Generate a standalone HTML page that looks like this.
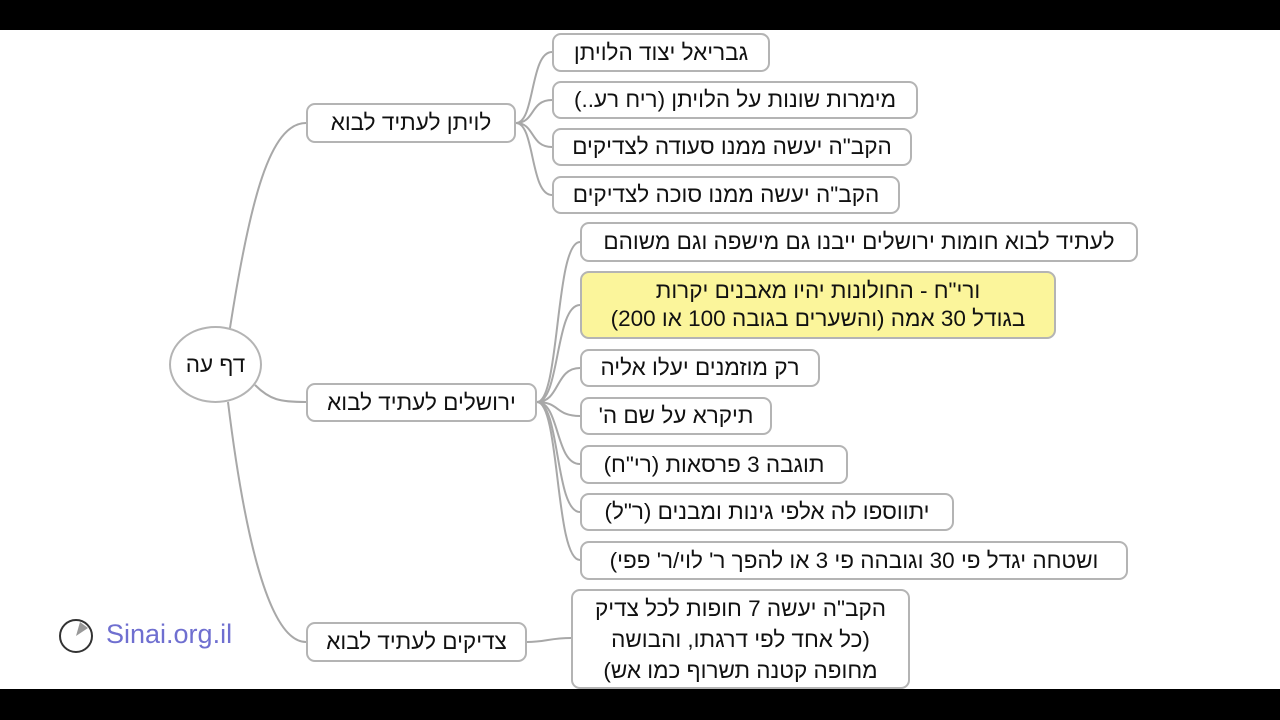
<!DOCTYPE html>
<html><head><meta charset="utf-8"><style>
body{margin:0;width:1280px;height:720px;background:#fff;position:relative;overflow:hidden;font-family:"Liberation Sans","DejaVu Sans",sans-serif}
.bar{position:absolute;left:0;width:1280px;background:#000}
.n{position:absolute;box-sizing:border-box;border:2px solid #b4b4b4;border-radius:9px;background:#fff;color:#111;font-size:22.5px;direction:rtl;text-align:center;display:flex;align-items:center;justify-content:center;line-height:26px;white-space:nowrap}
svg{position:absolute;left:0;top:0}
</style></head><body>
<div class="bar" style="top:0;height:30px"></div>
<div class="bar" style="top:689px;height:31px"></div>
<svg width="1280" height="720" fill="none" stroke="#a8a8a8" stroke-width="2">
<path d="M230 328 C250 200 270 123 306 123"/>
<path d="M255 385 C270 400 280 402 306 402"/>
<path d="M228 402 C245 540 270 642 306 642"/>
<path d="M516 123 C535 123 530 52 552 52"/>
<path d="M516 123 C535 123 530 100 552 100"/>
<path d="M516 123 C535 123 530 147 552 147"/>
<path d="M516 123 C535 123 530 195 552 195"/>
<path d="M537 402 C560 402 555 242 580 242"/>
<path d="M537 402 C560 402 555 305 580 305"/>
<path d="M537 402 C560 402 555 368 580 368"/>
<path d="M537 402 C560 402 555 416 580 416"/>
<path d="M537 402 C560 402 555 464 580 464"/>
<path d="M537 402 C560 402 555 512 580 512"/>
<path d="M537 402 C560 402 555 560 580 560"/>
<path d="M527 642 C545 642 550 638 571 638"/>
<circle cx="76" cy="636" r="16" stroke="#333"/>
<path d="M76 636 L80 622 L88 628 Z" fill="#999" stroke="none"/>
</svg>
<div class="n" style="left:169px;top:326px;width:93px;height:77px;border-radius:50%">דף עה</div>
<div class="n" style="left:306px;top:103px;width:210px;height:40px">לויתן לעתיד לבוא</div>
<div class="n" style="left:306px;top:383px;width:231px;height:39px">ירושלים לעתיד לבוא</div>
<div class="n" style="left:306px;top:622px;width:221px;height:40px">צדיקים לעתיד לבוא</div>
<div class="n" style="left:552px;top:33px;width:218px;height:39px">גבריאל יצוד הלויתן</div>
<div class="n" style="left:552px;top:81px;width:366px;height:38px">מימרות שונות על הלויתן (ריח רע..)</div>
<div class="n" style="left:552px;top:128px;width:360px;height:38px">הקב"ה יעשה ממנו סעודה לצדיקים</div>
<div class="n" style="left:552px;top:176px;width:348px;height:38px">הקב"ה יעשה ממנו סוכה לצדיקים</div>
<div class="n" style="left:580px;top:222px;width:558px;height:40px">לעתיד לבוא חומות ירושלים ייבנו גם מישפה וגם משוהם</div>
<div class="n" style="left:580px;top:271px;width:476px;height:68px;background:#fbf59b;flex-direction:column;line-height:28px">
<div>ורי"ח - החולונות יהיו מאבנים יקרות</div><div>בגודל 30 אמה (והשערים בגובה 100 או 200)</div></div>
<div class="n" style="left:580px;top:349px;width:240px;height:38px">רק מוזמנים יעלו אליה</div>
<div class="n" style="left:580px;top:397px;width:192px;height:38px">תיקרא על שם ה'</div>
<div class="n" style="left:580px;top:445px;width:268px;height:39px">תוגבה 3 פרסאות (רי"ח)</div>
<div class="n" style="left:580px;top:493px;width:374px;height:38px">יתווספו לה אלפי גינות ומבנים (ר"ל)</div>
<div class="n" style="left:580px;top:541px;width:548px;height:39px">ושטחה יגדל פי 30 וגובהה פי 3 או להפך ר' לוי/ר' פפי)</div>
<div class="n" style="left:571px;top:589px;width:339px;height:100px;flex-direction:column;line-height:31px">
<div>הקב"ה יעשה 7 חופות לכל צדיק</div><div>(כל אחד לפי דרגתו, והבושה</div><div>מחופה קטנה תשרוף כמו אש)</div></div>
<div style="position:absolute;left:106px;top:619px;font-size:27px;color:#6f6fd0">Sinai.org.il</div>
</body></html>
